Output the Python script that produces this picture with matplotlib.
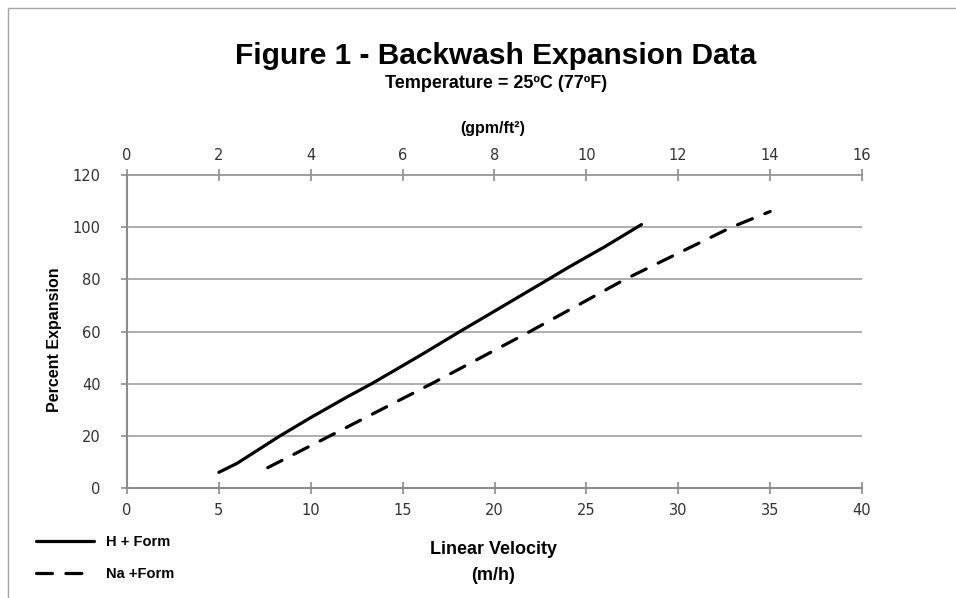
import matplotlib
matplotlib.use("Agg")
import matplotlib.pyplot as plt
from matplotlib.patches import Rectangle

# Data (m/h vs percent expansion)
h_x = [5, 6, 8.33, 10, 12, 13.32, 16, 18.12, 20, 22.93, 24, 26, 28]
h_y = [6, 9.5, 20, 27, 35, 40, 51, 60, 67.8, 80, 84.5, 92.5, 101]
na_x = [7.66, 11.05, 16.58, 21.93, 27.1, 32.9, 35]
na_y = [7.8, 20, 40, 60, 80, 100, 106]

x_ticks = [0, 5, 10, 15, 20, 25, 30, 35, 40]
top_ticks = [0, 2, 4, 6, 8, 10, 12, 14, 16]
y_ticks = [0, 20, 40, 60, 80, 100, 120]

W, H = 956, 598
fig = plt.figure(figsize=(W / 100, H / 100), dpi=100)
fig.patch.set_facecolor("white")

# outer frame
fig.add_artist(Rectangle((8 / W, -0.05), 1.2, (H - 8) / H + 0.05, transform=fig.transFigure,
                         fill=False, edgecolor="#a6a6a6", linewidth=1.0))

ax = fig.add_axes([127 / W, (H - 488) / H, (862 - 127) / W, (488 - 175) / H])
grid_c = "#a0a0a0"
spine_c = "#8c8c8c"
lbl_c = "#333333"
tick_font = dict(family="DejaVu Sans", size=10.5)

ax.plot(h_x, h_y, color="black", linewidth=2.3, solid_capstyle="round", label="H + Form")
ax.plot(na_x, na_y, color="black", linewidth=2.3, dashes=(5, 4.2), dash_capstyle="round",
        label="Na +Form")

ax.set_xlim(0, 40)
ax.set_ylim(0, 120)
ax.set_xticks(x_ticks)
ax.set_yticks(y_ticks)
ax.set_xticklabels([str(v) for v in x_ticks], fontdict=tick_font, color=lbl_c)
ax.set_yticklabels([str(v) for v in y_ticks], fontdict=tick_font, color=lbl_c)
ax.yaxis.grid(True, color=grid_c, linewidth=1.2)
ax.set_axisbelow(True)
ax.spines["right"].set_visible(False)
ax.spines["top"].set_visible(False)
for s in ["left", "bottom"]:
    ax.spines[s].set_color(spine_c)
    ax.spines[s].set_linewidth(1.5)
ax.tick_params(axis="x", direction="inout", length=9, color=spine_c, width=1.2, pad=6)
ax.tick_params(axis="y", direction="out", length=4, color=spine_c, width=1.2, pad=15)

sec = ax.secondary_xaxis("top", functions=(lambda x: x / 2.5, lambda x: x * 2.5))
sec.set_xticks(top_ticks)
sec.set_xticklabels([str(v) for v in top_ticks], fontdict=tick_font, color=lbl_c)
sec.spines["top"].set_color(spine_c)
sec.spines["top"].set_linewidth(1.2)
sec.tick_params(axis="x", direction="inout", length=9, color=spine_c, width=1.2, pad=4)

bold = dict(family="Liberation Sans", weight="bold", color="black")
fig.text(496 / W, 1 - 56 / H, "Figure 1 - Backwash Expansion Data", ha="center", va="center",
         fontsize=21.5, **bold)
fig.text(496 / W, 1 - 84 / H, "Temperature = 25ºC (77ºF)", ha="center", va="center",
         fontsize=13, **bold)
fig.text(493 / W, 1 - 129 / H, "(gpm/ft²)", ha="center", va="center", fontsize=11.5, **bold)
fig.text(493 / W, 1 - 549 / H, "Linear Velocity", ha="center", va="center", fontsize=13, **bold)
fig.text(493 / W, 1 - 576 / H, "(m/h)", ha="center", va="center", fontsize=13, **bold)
fig.text(55 / W, 1 - 340 / H, "Percent Expansion", ha="center", va="center", rotation=90,
         fontsize=11.5, **bold)

# legend
leg = fig.legend(loc="center left", bbox_to_anchor=(23 / W, 1 - 558 / H), frameon=False,
                 prop=dict(family="Liberation Sans", weight="bold", size=10.5),
                 handlelength=4.0, handletextpad=0.8, labelspacing=1.2)

fig.savefig("out.png", dpi=100)
